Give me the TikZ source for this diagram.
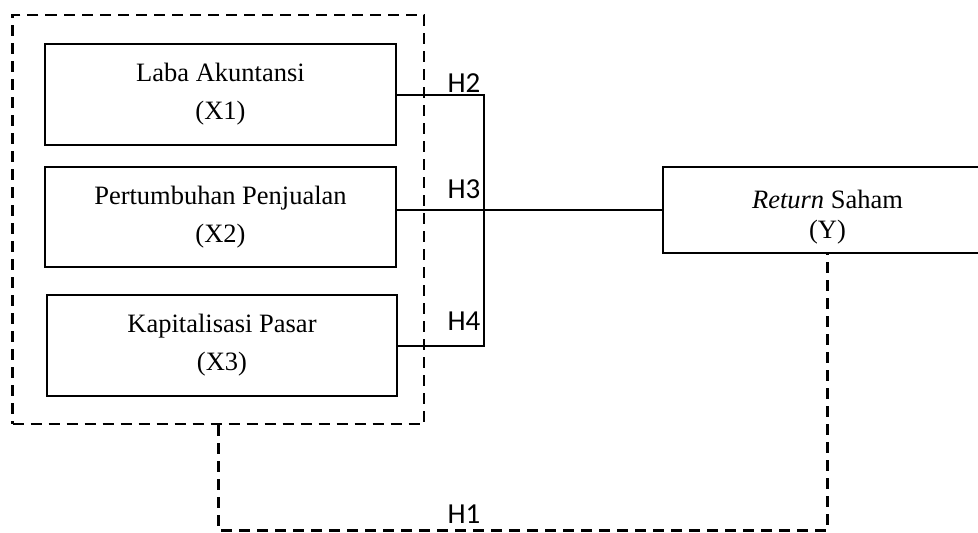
\documentclass[tikz,border=0pt]{standalone}
\usepackage{fontspec}
\setmainfont{Liberation Serif}
\newfontfamily\hfont{Carlito}
\begin{document}
\begin{tikzpicture}[x=1pt,y=-1pt,
 box/.style={draw,line width=2pt,inner sep=0pt,align=center,font=\fontsize{26.5}{38}\selectfont},
 dsh/.style={line width=2.5pt,dash pattern=on 11pt off 7pt},
 conn/.style={line width=2pt},
 hlab/.style={font=\hfont\fontsize{29}{30}\selectfont,anchor=base,inner sep=0pt}]
\clip (0,0) rectangle (978,533);
\useasboundingbox (0,0) rectangle (978,533);
\node[draw,dsh,minimum width=411.5pt,minimum height=409pt,inner sep=0pt] (grp) at (218.25,219.5) {};
\node[box,minimum width=351pt,minimum height=101pt] (x1) at (220.5,94.5) {Laba Akuntansi\\(X1)};
\node[box,minimum width=351pt,minimum height=100pt] (x2) at (220.5,217) {Pertumbuhan Penjualan\\(X2)};
\node[box,minimum width=350pt,minimum height=101pt] (x3) at (222,345.5) {Kapitalisasi Pasar\\(X3)};
\node[box,font=\fontsize{26.5}{30}\selectfont,minimum width=329pt,minimum height=86pt] (y) at (827.5,210) {\rule{0pt}{33pt}\textit{Return} Saham\\(Y)};
\coordinate (jt) at (484,94.5);
\coordinate (jb) at (484,345.5);
\draw[conn] (x1.east) -- (jt) -- (jb) -- (x3.east);
\draw[conn] (x2.east |- y.west) -- (y.west);
\draw[dsh] (grp.south) -- ++(0,105) -| (y.south);
\node[hlab] (h2) at (464,92) {H2};
\node[hlab] (h3) at (464,198) {H3};
\node[hlab] (h4) at (464,330) {H4};
\node[hlab] (h1) at (464,523) {H1};
\end{tikzpicture}
\end{document}
